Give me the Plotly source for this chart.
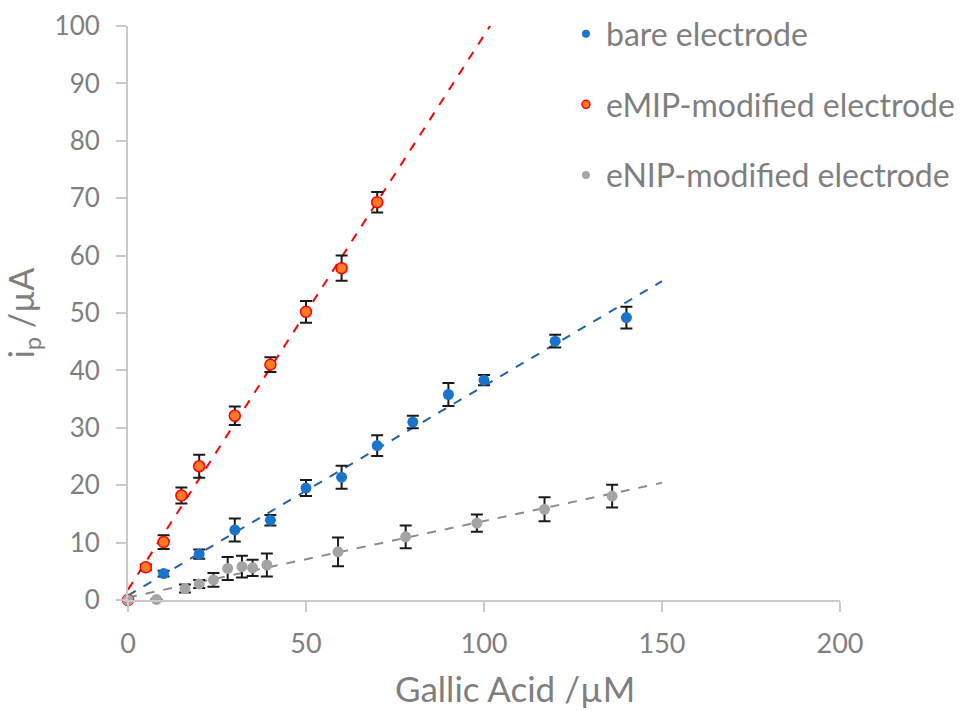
import numpy as np
import plotly.graph_objects as go

# Gallic acid concentration (µM) and peak current (µA) with standard deviations
bare_x = [0, 10, 20, 30, 40, 50, 60, 70, 80, 90, 100, 120, 140]
bare_y = [0, 4.6, 8.0, 12.2, 13.9, 19.5, 21.4, 26.9, 31.0, 35.8, 38.3, 45.1, 49.2]
bare_err = [0, 0.5, 0.8, 2.0, 0.9, 1.4, 2.0, 1.8, 1.1, 2.0, 0.9, 1.1, 1.9]

emip_x = [0, 5, 10, 15, 20, 30, 40, 50, 60, 70]
emip_y = [0, 5.7, 10.1, 18.2, 23.3, 32.1, 41.0, 50.2, 57.8, 69.3]
emip_err = [0, 0.5, 1.2, 1.4, 2.0, 1.6, 1.3, 1.9, 2.2, 1.8]

enip_x = [0, 8, 16, 20, 24, 28, 32, 35, 39, 59, 78, 98, 117, 136]
enip_y = [0, 0.1, 2.0, 2.8, 3.5, 5.5, 5.8, 5.6, 6.1, 8.4, 11.0, 13.4, 15.8, 18.1]
enip_err = [0, 0, 0.7, 0.7, 1.2, 2.0, 1.9, 1.4, 2.0, 2.5, 2.0, 1.5, 2.1, 2.0]

series_names = ["bare electrode", "eMIP-modified electrode", "eNIP-modified electrode"]
trend_end_x = 150

BLUE = "#1b74cc"
BLUE_LINE = "#1f62ad"
RED = "#ff0000"
ORANGE = "#ff7b25"
GRAY = "#a5a5a5"
GRAY_LINE = "#8c8c8c"
TEXT = "#7f7f7f"
AXIS = "#c9c9c9"
FONT = "Lato"

fig = go.Figure()

series = [
    (bare_x, bare_y, bare_err, dict(color=BLUE, size=11), BLUE_LINE),
    (emip_x, emip_y, emip_err, dict(color=ORANGE, size=11, line=dict(color=RED, width=1.5)), RED),
    (enip_x, enip_y, enip_err, dict(color=GRAY, size=11), GRAY_LINE),
]

# linear trendlines, forecast to 150 µM
for x, y, _, _, lc in series:
    slope, intercept = np.polyfit(x, y, 1)
    xs = np.array([0, trend_end_x])
    fig.add_trace(go.Scatter(
        x=xs, y=slope * xs + intercept, mode="lines",
        line=dict(color=lc, width=2, dash="dash"),
        showlegend=False, hoverinfo="skip",
    ))

# measured points with error bars
for (x, y, err, mk, _), name in zip(series, series_names):
    fig.add_trace(go.Scatter(
        x=x, y=y, mode="markers", name=name, marker=mk,
        error_y=dict(type="data", array=err, visible=True,
                     color="#1a1a1a", thickness=2, width=6),
        cliponaxis=False, showlegend=False,
    ))

# legend entries with small markers
for (_, _, _, mk, _), name, grp in zip(series, series_names, ["a", "b", "c"]):
    small = dict(mk)
    small["size"] = 8
    fig.add_trace(go.Scatter(
        x=[None], y=[None], mode="markers", name=name, marker=small,
        legendgroup=grp, showlegend=True,
    ))

fig.update_layout(
    width=963, height=711,
    margin=dict(l=128, r=123, t=26, b=111, autoexpand=False),
    paper_bgcolor="white", plot_bgcolor="white",
    font=dict(family=FONT, color=TEXT),
    legend=dict(
        xref="container", yref="container",
        x=0.5877, y=0.9909, xanchor="left", yanchor="top",
        font=dict(size=32, color=TEXT, family=FONT),
        tracegroupgap=26, bgcolor="rgba(0,0,0,0)",
    ),
    xaxis=dict(
        range=[0, 200], dtick=50, showgrid=False, zeroline=False,
        showline=True, linecolor=AXIS, linewidth=2,
        ticks="outside", ticklen=10, tickwidth=1.5, tickcolor=AXIS,
        tickfont=dict(size=27, color=TEXT), ticklabelstandoff=9,
    ),
    yaxis=dict(
        range=[0, 100], dtick=10, showgrid=False, zeroline=False,
        showline=True, linecolor=AXIS, linewidth=2,
        ticks="outside", ticklen=10, tickwidth=1.5, tickcolor=AXIS,
        tickfont=dict(size=26, color=TEXT), ticklabelstandoff=11,
        title=dict(text="i<sub>p</sub> /µA", font=dict(size=34, color=TEXT), standoff=12),
    ),
    annotations=[dict(
        text="Gallic Acid /µM", xref="paper", yref="paper",
        x=0.5435, y=-0.1533, xanchor="center", yanchor="middle",
        showarrow=False, font=dict(size=35, color=TEXT, family=FONT),
    )],
)

fig.write_html("out.html")
